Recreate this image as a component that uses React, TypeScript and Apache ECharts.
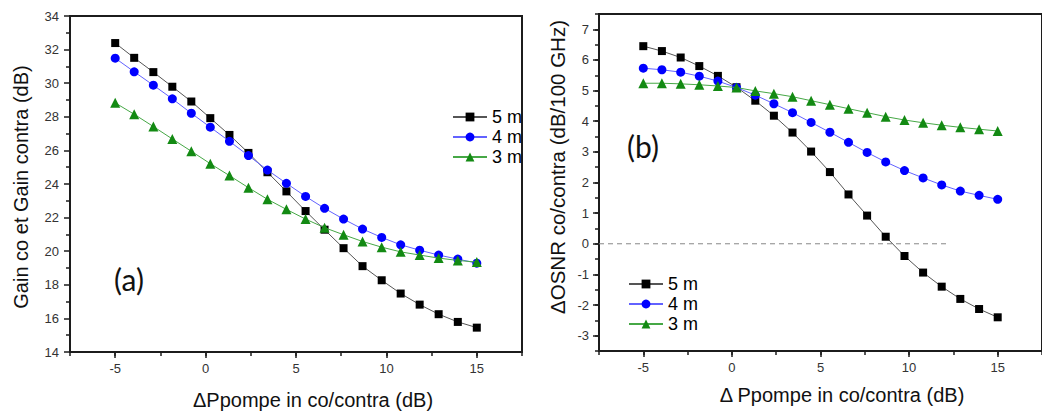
import React, { useEffect, useRef } from "react";
import * as echarts from "echarts";

const xValues = [-5, -3.95, -2.89, -1.84, -0.79, 0.26, 1.32, 2.37, 3.42, 4.47, 5.53, 6.58, 7.63, 8.68, 9.74, 10.79, 11.84, 12.89, 13.95, 15];

const gain5m = [32.39, 31.51, 30.66, 29.79, 28.91, 27.92, 26.92, 25.85, 24.7, 23.56, 22.39, 21.28, 20.18, 19.11, 18.27, 17.48, 16.82, 16.25, 15.79, 15.45];
const gain4m = [31.49, 30.68, 29.88, 29.07, 28.21, 27.38, 26.54, 25.69, 24.83, 24.04, 23.26, 22.55, 21.91, 21.32, 20.82, 20.38, 20.06, 19.77, 19.53, 19.29];
const gain3m = [28.83, 28.15, 27.42, 26.68, 25.95, 25.21, 24.5, 23.78, 23.09, 22.49, 21.91, 21.4, 20.98, 20.58, 20.24, 19.96, 19.77, 19.59, 19.45, 19.35];

const osnr5m = [6.45, 6.29, 6.08, 5.8, 5.48, 5.11, 4.67, 4.18, 3.63, 3.01, 2.34, 1.61, 0.92, 0.23, -0.4, -0.94, -1.4, -1.8, -2.13, -2.4];
const osnr4m = [5.73, 5.68, 5.6, 5.47, 5.31, 5.1, 4.85, 4.57, 4.28, 3.96, 3.64, 3.31, 2.98, 2.67, 2.39, 2.15, 1.92, 1.72, 1.58, 1.45];
const osnr3m = [5.24, 5.24, 5.22, 5.19, 5.15, 5.1, 4.99, 4.9, 4.8, 4.67, 4.54, 4.41, 4.28, 4.15, 4.04, 3.95, 3.87, 3.8, 3.74, 3.68];

const seriesNames = ["5 m", "4 m", "3 m"];
const xTickLabels = [-5, 0, 5, 10, 15];
const osnrTickLabels = [-3, -2, -1, 0, 1, 2, 3, 4, 5, 6, 7];
const zeroLine = [[-7.5, 0], [12.2, 0]];

const FONT = "'Liberation Sans', Arial, sans-serif";
const FRAME = "#1c1c1c";

const styles = [
  { symbol: "rect", size: 8, color: "#000000", line: "#555555" },
  { symbol: "circle", size: 9, color: "#0000ff", line: "#6262ff" },
  { symbol: "triangle", size: 10, color: "#138a13", line: "#46a846" },
];

function makeSeries(values: number[][], xi: number, yi: number) {
  return values.map((vals, k) => ({
    type: "line",
    name: seriesNames[k],
    xAxisIndex: xi,
    yAxisIndex: yi,
    data: xValues.map((x, i) => [x, vals[i]]),
    symbol: styles[k].symbol,
    symbolSize: styles[k].size,
    itemStyle: { color: styles[k].color },
    lineStyle: { color: styles[k].line, width: 1 },
    z: 3 + k,
  }));
}

const mkLine = () => ({ show: true, onZero: false, lineStyle: { color: FRAME, width: 2 } });
const labelStyle = () => ({ color: "#333", fontSize: 13, fontFamily: FONT });

function xMain(grid: number) {
  return {
    type: "value",
    gridIndex: grid,
    position: "bottom",
    min: -7.5,
    max: 17.5,
    interval: 2.5,
    axisLine: mkLine(),
    axisTick: { show: true, inside: false, length: 6, lineStyle: { color: FRAME, width: 1.5 }, customValues: xTickLabels },
    axisLabel: { ...labelStyle(), margin: 10, customValues: xTickLabels },
    splitLine: { show: false },
  };
}
function xMinor(grid: number) {
  return {
    type: "value",
    gridIndex: grid,
    position: "bottom",
    min: -7.5,
    max: 17.5,
    interval: 2.5,
    axisLine: { show: false, onZero: false },
    axisTick: { show: true, length: 4, lineStyle: { color: FRAME, width: 1.5 } },
    axisLabel: { show: false },
    splitLine: { show: false },
  };
}
function xTop(grid: number) {
  return {
    type: "value",
    gridIndex: grid,
    position: "top",
    min: -7.5,
    max: 17.5,
    interval: 2.5,
    axisLine: mkLine(),
    axisTick: { show: false },
    axisLabel: { show: false },
    splitLine: { show: false },
  };
}

export default function App() {
  const ref = useRef<HTMLDivElement>(null);
  useEffect(() => {
    if (!ref.current) return;
    const chart = echarts.init(ref.current, undefined, { renderer: "svg" });
    const legendBase = () => ({
      orient: "vertical",
      itemWidth: 34,
      itemHeight: 11,
      itemGap: 0,
      textStyle: { fontSize: 18, fontFamily: FONT, color: "#000", lineHeight: 20 },
      data: seriesNames,
      selectedMode: false,
    });
    const titleStyle = { fontSize: 20, fontFamily: FONT, fill: "#111", align: "center", verticalAlign: "middle" };
    const panelStyle = { fontSize: 30, fontFamily: "Lato, 'Open Sans', sans-serif", fill: "#111", align: "center", verticalAlign: "middle" };
    chart.setOption({
      animation: false,
      backgroundColor: "#fff",
      grid: [
        { left: 70, top: 16, width: 452, height: 336, show: true, borderColor: FRAME, borderWidth: 2 },
        { left: 599, top: 14, right: -9, height: 337, show: true, borderColor: FRAME, borderWidth: 2 },
      ],
      xAxis: [xMain(0), xMinor(0), xTop(0), xMain(1), xMinor(1), xTop(1)],
      yAxis: [
        {
          type: "value",
          gridIndex: 0,
          position: "left",
          min: 14,
          max: 34,
          interval: 2,
          axisLine: mkLine(),
          axisTick: { show: true, length: 6, lineStyle: { color: FRAME, width: 1.5 } },
          minorTick: { show: true, splitNumber: 2, length: 4, lineStyle: { color: FRAME, width: 1.5 } },
          axisLabel: { ...labelStyle(), margin: 11 },
          splitLine: { show: false },
        },
        {
          type: "value",
          gridIndex: 0,
          position: "right",
          min: 14,
          max: 34,
          interval: 2,
          axisLine: mkLine(),
          axisTick: { show: false },
          axisLabel: { show: false },
          splitLine: { show: false },
        },
        {
          type: "value",
          gridIndex: 1,
          position: "left",
          min: -3.5,
          max: 7.5,
          interval: 0.5,
          axisLine: mkLine(),
          axisTick: { show: true, length: 6, lineStyle: { color: FRAME, width: 1.5 }, customValues: osnrTickLabels },
          axisLabel: { ...labelStyle(), margin: 10, customValues: osnrTickLabels },
          splitLine: { show: false },
        },
        {
          type: "value",
          gridIndex: 1,
          position: "left",
          min: -3.5,
          max: 7.5,
          interval: 0.5,
          axisLine: { show: false, onZero: false },
          axisTick: { show: true, length: 4, lineStyle: { color: FRAME, width: 1.5 } },
          axisLabel: { show: false },
          splitLine: { show: false },
        },
      ],
      legend: [
        { ...legendBase(), left: 447, top: 102 },
        { ...legendBase(), left: 623, top: 269 },
      ],
      series: [
        ...makeSeries([gain5m, gain4m, gain3m], 0, 0),
        {
          type: "line",
          xAxisIndex: 3,
          yAxisIndex: 2,
          data: zeroLine,
          symbol: "none",
          lineStyle: { color: "#888", width: 1, type: [5, 4] },
          z: 1,
          silent: true,
        },
        ...makeSeries([osnr5m, osnr4m, osnr3m], 3, 2),
      ],
      graphic: [
        { type: "text", x: 129, y: 279, style: { text: "(a)", ...panelStyle } },
        { type: "text", x: 643, y: 146, style: { text: "(b)", ...panelStyle } },
        { type: "text", x: 21, y: 187, rotation: Math.PI / 2, style: { text: "Gain co et Gain contra (dB)", ...titleStyle } },
        { type: "text", x: 313, y: 400, style: { text: "ΔPpompe in co/contra (dB)", ...titleStyle } },
        { type: "text", x: 557, y: 167, rotation: Math.PI / 2, style: { text: "ΔOSNR co/contra (dB/100 GHz)", ...titleStyle, fontSize: 20.5 } },
        { type: "text", x: 842, y: 395, style: { text: "Δ Ppompe in co/contra (dB)", ...titleStyle } },
      ],
    });
    return () => chart.dispose();
  }, []);
  return <div ref={ref} style={{ position: "absolute", left: 0, top: 0, width: 1042, height: 413 }} />;
}
